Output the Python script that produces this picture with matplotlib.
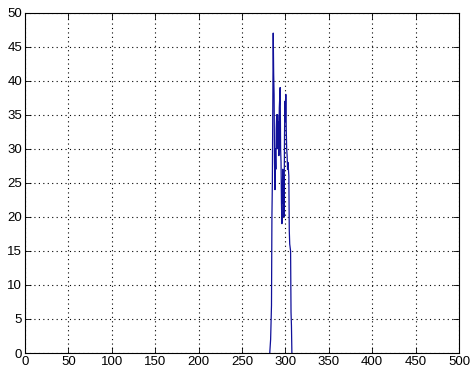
import matplotlib
matplotlib.use('Agg')
import matplotlib.pyplot as plt
import numpy as np

# signal samples (zero outside this window)
x_vals = [282, 283, 284, 284.5, 285, 286, 286.5, 287, 287.5, 288, 288.5, 289,
          289.5, 290, 290.5, 291, 291.5, 292, 292.5, 293, 294, 294.5, 295,
          295.5, 296, 296.5, 297, 297.5, 298, 298.5, 299, 299.5, 300, 300.5,
          301, 301.5, 302, 302.5, 303, 304, 304.5, 305, 306, 306.5, 307, 307.5]
y_vals = [0, 2, 7, 20, 25, 47, 41, 38, 28, 24, 30, 27,
          33, 35, 30, 35, 31, 34, 29, 36, 39, 30, 28,
          22, 19, 24, 27, 22, 26, 20, 32, 37, 34, 38,
          33, 30, 29, 27, 28, 26, 18, 16, 15, 6, 4, 0]

x_ticks = np.arange(0, 501, 50)
y_ticks = np.arange(0, 51, 5)

plt.rcParams['font.family'] = ['Liberation Sans', 'DejaVu Sans']

fig = plt.figure(figsize=(4.74, 3.74), dpi=100)
ax = fig.add_axes([0.0527, 0.0561, 0.9156, 0.910])

ax.plot(x_vals, y_vals, color='#10109a', linewidth=0.9)

ax.set_xlim(0, 500)
ax.set_ylim(0, 50)
ax.set_xticks(x_ticks)
ax.set_yticks(y_ticks)
ax.grid(True, color='black', linestyle=(0, (1, 3)), linewidth=0.8)
ax.tick_params(direction='in', top=True, right=True, length=4, width=0.6,
               labelsize=9.5, pad=2)
for s in ax.spines.values():
    s.set_linewidth(0.8)

fig.savefig('out.png', dpi=100)
